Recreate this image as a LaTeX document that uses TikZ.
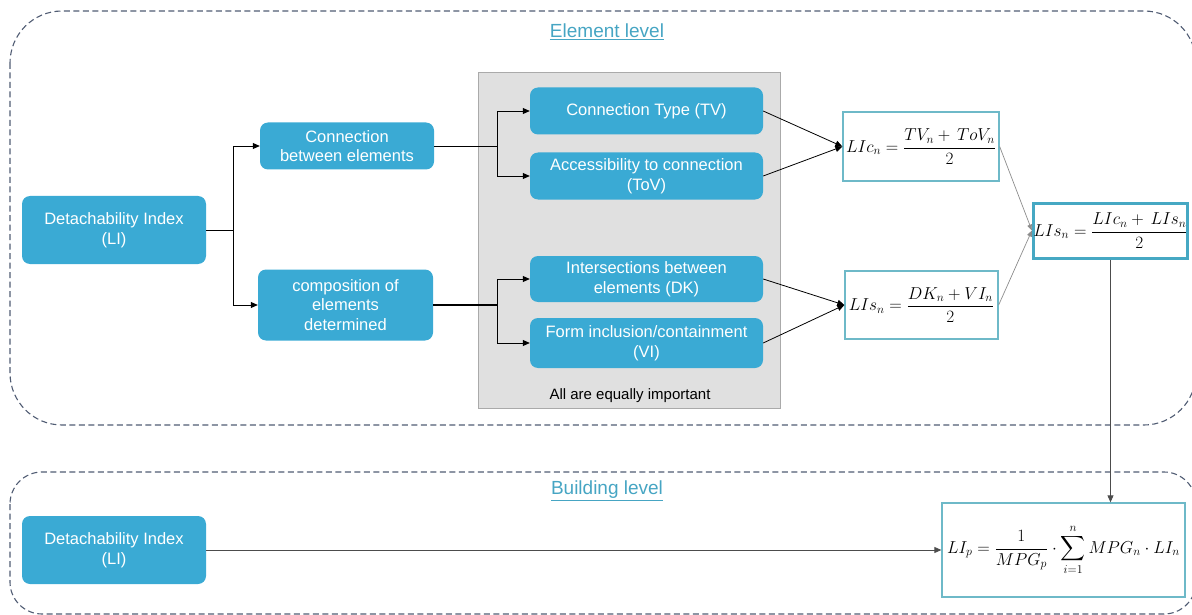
\documentclass[tikz,border=0pt]{standalone}
\usepackage{amsmath}
\usepackage{fontspec}
\usetikzlibrary{arrows.meta}
\newfontfamily\boxfont{Liberation Sans}

\definecolor{boxblue}{RGB}{58,170,212}
\definecolor{formulaedge}{RGB}{110,185,200}
\definecolor{bigedge}{RGB}{70,168,195}
\definecolor{frameedge}{RGB}{80,92,115}
\definecolor{titleblue}{RGB}{70,165,195}
\definecolor{panelfill}{RGB}{224,224,224}
\definecolor{paneledge}{RGB}{170,170,170}
\definecolor{thinline}{RGB}{140,140,140}

\tikzset{
  bluebox/.style={fill=boxblue, rounded corners=8pt, text=white, align=center,
    inner sep=0pt, font={\boxfont\fontsize{16.5}{19.5}\selectfont}},
  formulabox/.style={draw=formulaedge, line width=1.3pt, fill=white, inner sep=0pt,
    font={\fontsize{16.5}{20}\selectfont}},
  levelframe/.style={draw=frameedge, line width=1.1pt, dash pattern=on 6pt off 3.5pt},
  leveltitle/.style={text=titleblue, font={\boxfont\fontsize{19}{22}\selectfont}},
  link/.style={draw=black, line width=0.8pt},
  linkarrow/.style={link, -{Triangle[length=7pt,width=6pt]}},
  softarrow/.style={draw=thinline, line width=0.7pt, -{Triangle[length=6pt,width=5pt]}}
}

\begin{document}
\begin{tikzpicture}[x=1pt,y=-1pt]
\useasboundingbox (0,0) rectangle (1192,615);

% level frames
\draw[levelframe, rounded corners=52pt] (10,11) rectangle (1196,425);
\draw[levelframe, rounded corners=32pt] (10,472) rectangle (1196,614);
\node[leveltitle] (elemtitle) at (607,32) {\underline{Element level}};
\node[leveltitle] (buildtitle) at (607,491) {\underline{Building level}};

% grey panel holding the four criteria
\node[draw=paneledge, fill=panelfill, line width=0.8pt, minimum width=302pt,
      minimum height=336pt, inner sep=0pt] (panel) at (629,240) {};
\node[font={\boxfont\fontsize{15}{18}\selectfont}] (equal) at (630,396) {All are equally important};

% element level boxes
\node[bluebox, minimum width=184pt, minimum height=68pt] (litop) at (114,230) {Detachability Index\\(LI)};
\node[bluebox, minimum width=174pt, minimum height=47pt] (conn) at (347,146) {Connection\\between elements};
\node[bluebox, minimum width=175pt, minimum height=71pt] (comp) at (345.5,305) {composition of\\elements\\determined};

\node[bluebox, minimum width=233pt, minimum height=47pt] (tv)  at (646.5,111) {Connection Type (TV)};
\node[bluebox, minimum width=233pt, minimum height=47pt] (tov) at (646.5,176) {Accessibility to connection\\(ToV)};
\node[bluebox, minimum width=233pt, minimum height=46pt] (dk)  at (646.5,279) {Intersections between\\elements (DK)};
\node[bluebox, minimum width=233pt, minimum height=50pt] (vi)  at (646.5,343) {Form inclusion/containment\\(VI)};

% formulas
\node[formulabox, minimum width=156pt, minimum height=69pt] (lic) at (921,146.5)
  {$\displaystyle LIc_n = \frac{TV_n +\, ToV_n}{2}$};
\node[formulabox, minimum width=153pt, minimum height=68pt] (lis) at (921.5,305)
  {$\displaystyle LIs_n = \frac{DK_n + VI_n}{2}$};
\node[formulabox, draw=bigedge, line width=3pt, minimum width=153pt, minimum height=55pt] (lisbig) at (1110.5,230.5)
  {$\displaystyle LIs_n = \frac{LIc_n +\, LIs_n}{2}$};

% building level
\node[bluebox, minimum width=184pt, minimum height=68pt] (libot) at (114,550) {Detachability Index\\(LI)};
\node[formulabox, minimum width=243pt, minimum height=94pt] (lip) at (1063.5,550)
  {$\displaystyle LI_p = \frac{1}{MPG_p}\cdot\sum_{i=1}^{n} MPG_n\cdot LI_n$};

% branching connectors
\coordinate (j1) at (233,230);
\coordinate (j2) at (497,146);
\coordinate (j3) at (497,305);
\draw[link] (litop.east) -- (j1);
\draw[linkarrow] (j1) |- (conn.west);
\draw[linkarrow] (j1) |- (comp.west);
\draw[link] (conn.east) -- (j2);
\draw[linkarrow] (j2) |- (tv.west);
\draw[linkarrow] (j2) |- (tov.west);
\draw[link, line width=1.2pt] (comp.east) -- (j3);
\draw[linkarrow] (j3) |- (dk.west);
\draw[linkarrow] (j3) |- (vi.west);

% criteria into formulas
\draw[linkarrow] (tv.east) -- (lic.west);
\draw[linkarrow] (tov.east) -- (lic.west);
\draw[linkarrow] (dk.east) -- (lis.west);
\draw[linkarrow] (vi.east) -- (lis.west);
\draw[softarrow] (lic.east) -- (lisbig.west);
\draw[softarrow] (lis.east) -- (lisbig.west);

% element level result feeds the building level
\draw[linkarrow, draw=black!70] (lisbig.south) -- (lisbig.south |- lip.north);
\draw[linkarrow, draw=black!70] (libot.east) -- (lip.west);
\end{tikzpicture}
\end{document}
